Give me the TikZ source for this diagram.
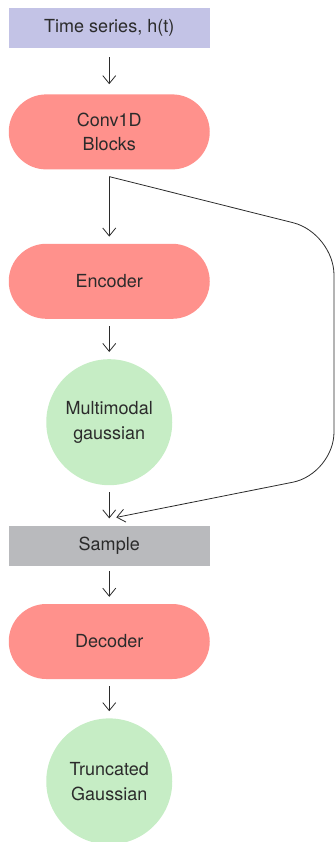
\documentclass[tikz,border=0pt]{standalone}
\usepackage{fontspec}
\setmainfont{TeX Gyre Heros}
\usetikzlibrary{positioning,arrows.meta}
\definecolor{lav}{HTML}{C3C3E6}
\definecolor{salmon}{HTML}{FF918C}
\definecolor{mint}{HTML}{C6EDC5}
\definecolor{ash}{HTML}{B9BABD}
\definecolor{ink}{HTML}{2B2B2B}

\begin{document}
\begin{tikzpicture}[x=1pt, y=-1pt,
    every node/.style={font=\fontsize{18}{24.5}\selectfont, text=ink, align=center, inner sep=0pt},
    bar/.style={rectangle, minimum width=201pt, minimum height=40pt},
    pill/.style={rectangle, rounded corners=37.5pt, fill=salmon, minimum width=201pt, minimum height=75pt},
    blob/.style={circle, fill=mint, minimum size=126pt},
    flow/.style={draw=ink, line width=0.8pt, -{Straight Barb[length=8pt,width=13pt]}, shorten <=7pt, shorten >=7pt}]
    \useasboundingbox (0,0) rectangle (336,842);

    \node[bar, fill=lav] (ts) at (109.25,28) {Time series, h(t)};
    \node[pill] (conv) [below=46pt of ts] {Conv1D\\Blocks};
    \node[pill] (enc) [below=74pt of conv] {Encoder};
    \node[blob] (mg) [below=40pt of enc] {Multimodal\\gaussian};
    \node[bar, fill=ash] (smp) [below=40pt of mg] {Sample};
    \node[pill] (dec) [below=38pt of smp] {Decoder};
    \node[blob] (tg) [below=39pt of dec] {Truncated\\Gaussian};

    \coordinate (bendtop) at (334,233);
    \coordinate (bendbot) at (334,474);

    \draw[flow, shorten <=9pt, shorten >=10pt] (ts) -- (conv);
    \draw[flow] (conv) -- (enc);
    \draw[flow] (enc) -- (mg);
    \draw[flow] (mg) -- (smp);
    \draw[flow, shorten <=5pt] (smp) -- (dec);
    \draw[flow] (dec) -- (tg);
    % skip path round the encoder
    \draw[flow, shorten <=0pt, shorten >=0pt, rounded corners=42pt] ([yshift=-7pt]conv.south) -- (bendtop) -- (bendbot) -- ([xshift=7pt,yshift=8pt]smp.north);
\end{tikzpicture}
\end{document}
